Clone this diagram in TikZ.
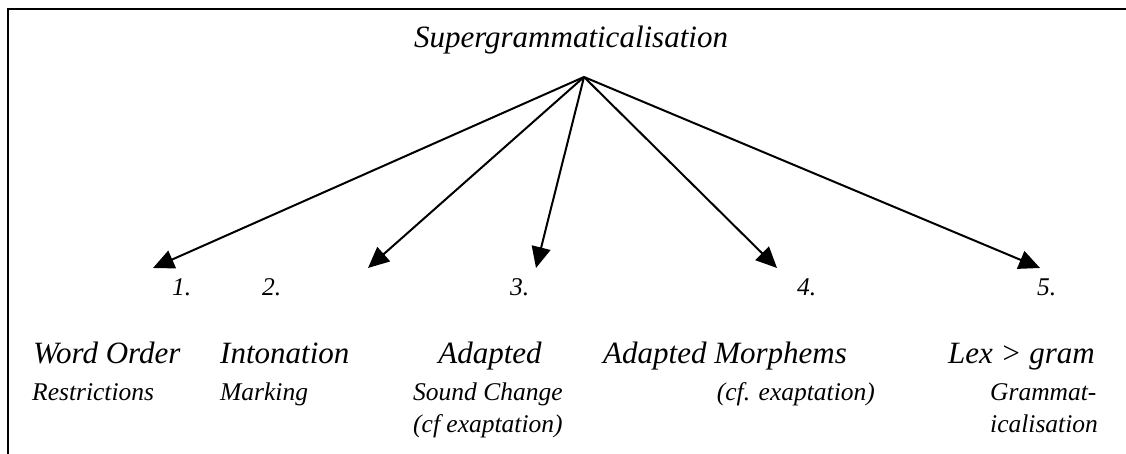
\documentclass[tikz,border=0pt]{standalone}
\usepackage{fontspec}
\setmainfont{Liberation Serif}
\usetikzlibrary{arrows.meta}

\tikzset{
  lbl/.style={inner sep=0pt, font=\itshape\fontsize{25.5}{32}\selectfont},
  biglbl/.style={inner sep=0pt, font=\itshape\fontsize{31}{36}\selectfont},
  arr/.style={line width=2pt, -{Triangle[length=21pt,width=19pt]}}
}

\begin{document}
\begin{tikzpicture}[x=1pt,y=-1pt]

\useasboundingbox (0,0) rectangle (1126,454);
\draw[line width=2pt] (8,454) -- (8,9) -- (1126,9);

\node[biglbl, anchor=base] (Super) at (571,48) {Supergrammaticalisation};
\coordinate (S_top) at (584,77);

\coordinate (T_1) at (153,268);
\coordinate (T_2) at (368,268);
\coordinate (T_3) at (536,268);
\coordinate (T_4) at (777,268);
\coordinate (T_5) at (1040,268);
\draw[arr] (S_top) -- (T_1);
\draw[arr] (S_top) -- (T_2);
\draw[arr] (S_top) -- (T_3);
\draw[arr] (S_top) -- (T_4);
\draw[arr] (S_top) -- (T_5);

\node[lbl, anchor=base west] (N_1) at (172,295) {1.};
\node[lbl, anchor=base west] (N_2) at (262,295) {2.};
\node[lbl, anchor=base west] (N_3) at (510,295) {3.};
\node[lbl, anchor=base west] (N_4) at (797,295) {4.};
\node[lbl, anchor=base west] (N_5) at (1037,295) {5.};

\node[biglbl, anchor=base west] (B_1) at (33,363) {Word Order};
\node[biglbl, anchor=base west] (B_2) at (220,363) {Intonation};
\node[biglbl, anchor=base] (B_3) at (490,363) {Adapted};
\node[biglbl, anchor=base west] (B_4) at (603,363) {Adapted Morphems};
\node[biglbl, anchor=base west] (B_5) at (948,363) {Lex > gram};

\node[lbl, anchor=base west] (C_1) at (32,400) {Restrictions};
\node[lbl, anchor=base west] (C_2) at (220,400) {Marking};
\node[lbl, anchor=base west, align=left] (C_3) at (413,432) {Sound Change\\(cf exaptation)};
\node[lbl, anchor=base east] (C_4) at (875,400) {(cf. exaptation)};
\node[lbl, anchor=base west, align=left] (C_5) at (990,432) {Grammat-\\icalisation};

\end{tikzpicture}
\end{document}
